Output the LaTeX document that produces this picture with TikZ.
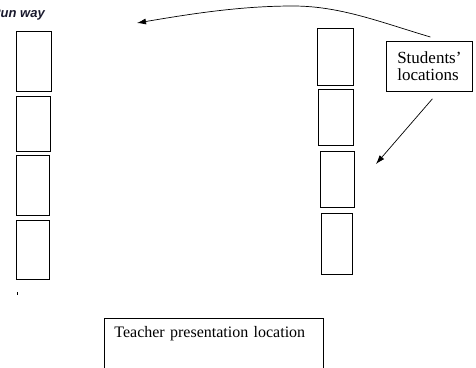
\documentclass[tikz,border=0pt]{standalone}
\usepackage{fontspec}
\setmainfont{Liberation Serif}
\newfontfamily\waysans{Liberation Sans}
\usetikzlibrary{arrows.meta}

\begin{document}
\begin{tikzpicture}[x=1pt, y=-1pt,
			desk/.style = {shape=rectangle, draw, line width=0.8pt,
				inner sep=0pt, anchor=north west},
			note/.style = {shape=rectangle, draw, line width=0.8pt,
				anchor=north west},
			pointer/.style = {draw, line width=0.7pt,
				-{Latex[length=9pt, width=6pt]}}]
			\useasboundingbox (0,0) rectangle (476,367);
			\clip (0,0) rectangle (476,367);
			% run way label, cut at the left border
			\node[anchor=base east, inner sep=0pt, text={rgb,255:red,25;green,25;blue,45},
				font=\waysans\bfseries\itshape\fontsize{13}{15}\selectfont] (way) at (45,17) {Run way};
			% left row of desks
			\node[desk, minimum width=35pt, minimum height=60pt] (l1) at (16,31) {};
			\node[desk, minimum width=34pt, minimum height=55pt] (l2) at (16,96) {};
			\node[desk, minimum width=33pt, minimum height=60pt] (l3) at (16,155) {};
			\node[desk, minimum width=33pt, minimum height=59pt] (l4) at (16,220) {};
			\draw[line width=0.8pt] (17,292) -- (17,295);
			% right row of desks
			\node[desk, minimum width=36pt, minimum height=57pt] (r1) at (317,28) {};
			\node[desk, minimum width=35pt, minimum height=56pt] (r2) at (318,89) {};
			\node[desk, minimum width=34pt, minimum height=56pt] (r3) at (320,151) {};
			\node[desk, minimum width=31pt, minimum height=61pt] (r4) at (321,213) {};
			% labels
			\node[note, minimum width=86pt, minimum height=50pt, align=left,
				font=\fontsize{17}{17.5}\selectfont] (stu) at (386,41)
				{Students'\\ locations};
			\node[note, text width=199pt, inner xsep=10pt, inner ysep=4pt,
				font=\fontsize{16}{19}\selectfont,
				text height=15pt, text depth=40pt, align=left] (teach) at (104,318)
				{Teacher presentation location};
			% arrows
			\coordinate (top) at (137,23);
			\coordinate (seat) at (376,164);
			\draw[pointer] ([xshift=1pt, yshift=4pt]stu.north)
				.. controls (380,22) and (340,6) .. (293,6)
				.. controls (240,6) and (190,14) .. (top);
			\draw[pointer] ([xshift=3pt, yshift=-7pt]stu.south) -- (seat);
		\end{tikzpicture}
\end{document}
